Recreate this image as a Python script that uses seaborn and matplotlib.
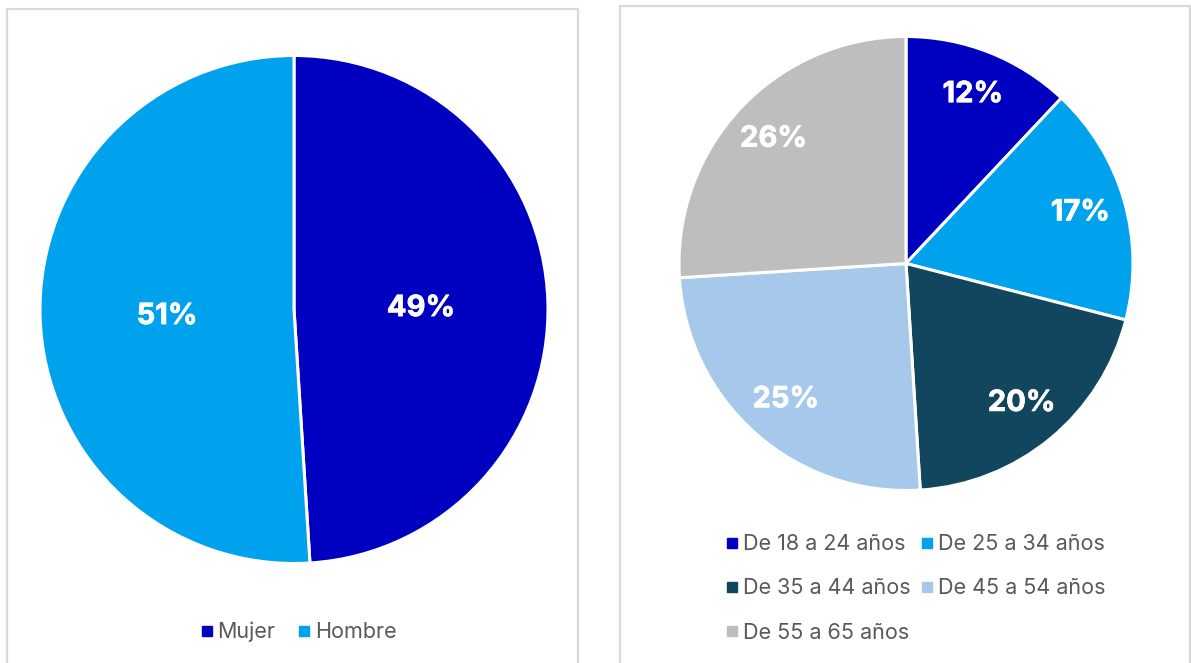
import matplotlib
matplotlib.use("Agg")
import matplotlib.pyplot as plt
import matplotlib.patheffects as pe
from matplotlib.lines import Line2D
from matplotlib.patches import Rectangle
import seaborn as sns

sns.set_theme(style="white")
plt.rcParams['font.family'] = ['Inter', 'DejaVu Sans']

# Data
sexo_labels = ["Mujer", "Hombre"]
sexo_values = [49, 51]
sexo_colors = ["#0000C0", "#00A2EE"]

edad_labels = ["De 18 a 24 años", "De 25 a 34 años", "De 35 a 44 años",
               "De 45 a 54 años", "De 55 a 65 años"]
edad_values = [12, 17, 20, 25, 26]
edad_colors = ["#0000C0", "#00A2EE", "#12465E", "#A6C9EB", "#BEBEBE"]

W, H = 1191, 663
fig = plt.figure(figsize=(W / 100, H / 100), dpi=100)
fig.patch.set_facecolor("white")

# panel borders
for (x0, x1, top) in [(7, 578, 9), (620, 1190, 6)]:
    fig.patches.append(Rectangle((x0 / W, -0.05), (x1 - x0) / W, (H - top) / H + 0.05,
                                 transform=fig.transFigure, fill=False,
                                 edgecolor="#D9D9D9", linewidth=1.6))

def pie_axes(cx, cy, r):
    return fig.add_axes([(cx - r) / W, (H - cy - r) / H, 2 * r / W, 2 * r / H])

text_kw = dict(color="white", fontsize=21, fontweight="bold",
               path_effects=[pe.withStroke(linewidth=0.5, foreground="white")])

ax1 = pie_axes(294, 309.5, 254)
w1, t1, a1 = ax1.pie(sexo_values, colors=sexo_colors, startangle=90, counterclock=False,
                     autopct=lambda p: f"{p:.0f}%", pctdistance=0.5,
                     wedgeprops=dict(edgecolor="white", linewidth=2.2), textprops=text_kw)
for a in a1:
    x, y = a.get_position()
    a.set_position((x, y - 0.012))
ax1.set_xlim(-1.0, 1.0); ax1.set_ylim(-1.0, 1.0); ax1.axis("off")

ax2 = pie_axes(906, 263.5, 227)
w2, t2, a2 = ax2.pie(edad_values, colors=edad_colors, startangle=90, counterclock=False,
                     autopct=lambda p: f"{p:.0f}%", pctdistance=0.8,
                     wedgeprops=dict(edgecolor="white", linewidth=2.2), textprops=text_kw)
ax2.set_xlim(-1.0, 1.0); ax2.set_ylim(-1.0, 1.0); ax2.axis("off")

def handles(colors):
    return [Line2D([], [], marker="s", linestyle="none", markersize=6.5,
                   markerfacecolor=c, markeredgecolor=c) for c in colors]

leg_kw = dict(frameon=False, fontsize=15.5, labelcolor="#595959",
              handlelength=0.5, handletextpad=0.25, borderpad=0, borderaxespad=0)

fig.legend(handles(sexo_colors), sexo_labels, loc="center", ncol=2,
           bbox_to_anchor=(299 / W, (H - 632) / H), columnspacing=1.1, **leg_kw)

order = [0, 2, 4, 1, 3]
fig.legend([handles(edad_colors)[i] for i in order], [edad_labels[i] for i in order],
           loc="center", ncol=2, bbox_to_anchor=(916 / W, (H - 588.5) / H),
           columnspacing=0.5, labelspacing=1.12, **leg_kw)

fig.savefig("out.png", dpi=100, facecolor="white")
